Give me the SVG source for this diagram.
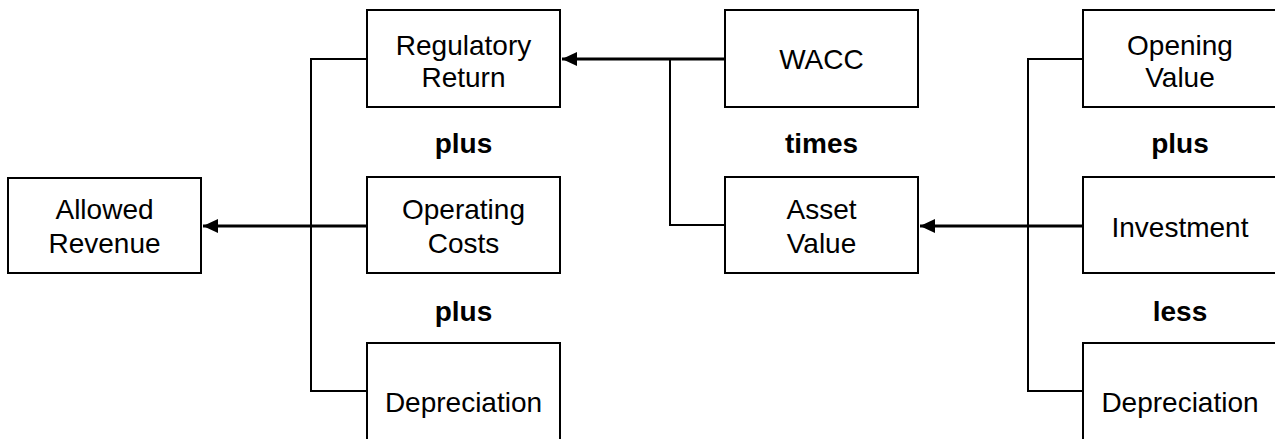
<svg xmlns="http://www.w3.org/2000/svg" width="1275" height="439" viewBox="0 0 1275 439">
<defs>
<style>
.box{fill:#fff;stroke:#000;stroke-width:2}
.t{font-family:"Liberation Sans",Arial,sans-serif;font-size:28px;text-anchor:middle;fill:#000}
.op{font-family:"Liberation Sans",Arial,sans-serif;font-size:28px;font-weight:bold;text-anchor:middle;fill:#000}
.ln{fill:none;stroke:#000;stroke-width:2}
.ar{fill:none;stroke:#000;stroke-width:3}
</style>
<marker id="ah" markerUnits="userSpaceOnUse" markerWidth="16" markerHeight="14" refX="15" refY="7" orient="auto">
<path d="M0,0 L15,7 L0,14 Z" fill="#000"/>
</marker>
</defs>
<rect width="1275" height="439" fill="#fff"/>
<g id="connectors">
<path class="ln" d="M367,59 H311 V391 H367"/>
<line class="ar" x1="367" y1="226" x2="203" y2="226" marker-end="url(#ah)"/>
<line class="ar" x1="725" y1="59" x2="562" y2="59" marker-end="url(#ah)"/>
<path class="ln" d="M670,59 V225 H725"/>
<path class="ln" d="M1083,59 H1028 V391 H1083"/>
<line class="ar" x1="1083" y1="226" x2="920" y2="226" marker-end="url(#ah)"/>
</g>
<g id="allowed-revenue">
<rect class="box" x="8" y="178" width="193" height="95"/>
<text class="t" x="104.5" y="219">Allowed</text>
<text class="t" x="104.5" y="253">Revenue</text>
</g>
<g id="regulatory-return">
<rect class="box" x="367" y="10" width="193" height="97"/>
<text class="t" x="463.5" y="55">Regulatory</text>
<text class="t" x="463.5" y="87">Return</text>
</g>
<g id="operating-costs">
<rect class="box" x="367" y="177" width="193" height="96"/>
<text class="t" x="463.5" y="219">Operating</text>
<text class="t" x="463.5" y="253">Costs</text>
</g>
<g id="depreciation-left">
<rect class="box" x="367" y="343" width="193" height="100"/>
<text class="t" x="463.5" y="412">Depreciation</text>
</g>
<g id="wacc">
<rect class="box" x="725" y="10" width="193" height="97"/>
<text class="t" x="821.5" y="69">WACC</text>
</g>
<g id="asset-value">
<rect class="box" x="725" y="177" width="193" height="96"/>
<text class="t" x="821.5" y="219">Asset</text>
<text class="t" x="821.5" y="253">Value</text>
</g>
<g id="opening-value">
<rect class="box" x="1083" y="10" width="200" height="97"/>
<text class="t" x="1180" y="55">Opening</text>
<text class="t" x="1180" y="87">Value</text>
</g>
<g id="investment">
<rect class="box" x="1083" y="177" width="200" height="96"/>
<text class="t" x="1180" y="237">Investment</text>
</g>
<g id="depreciation-right">
<rect class="box" x="1083" y="343" width="200" height="100"/>
<text class="t" x="1180" y="412">Depreciation</text>
</g>
<g id="operators">
<text class="op" x="463.5" y="153">plus</text>
<text class="op" x="821.5" y="153">times</text>
<text class="op" x="1180" y="153">plus</text>
<text class="op" x="463.5" y="321">plus</text>
<text class="op" x="1180" y="321">less</text>
</g>
</svg>
